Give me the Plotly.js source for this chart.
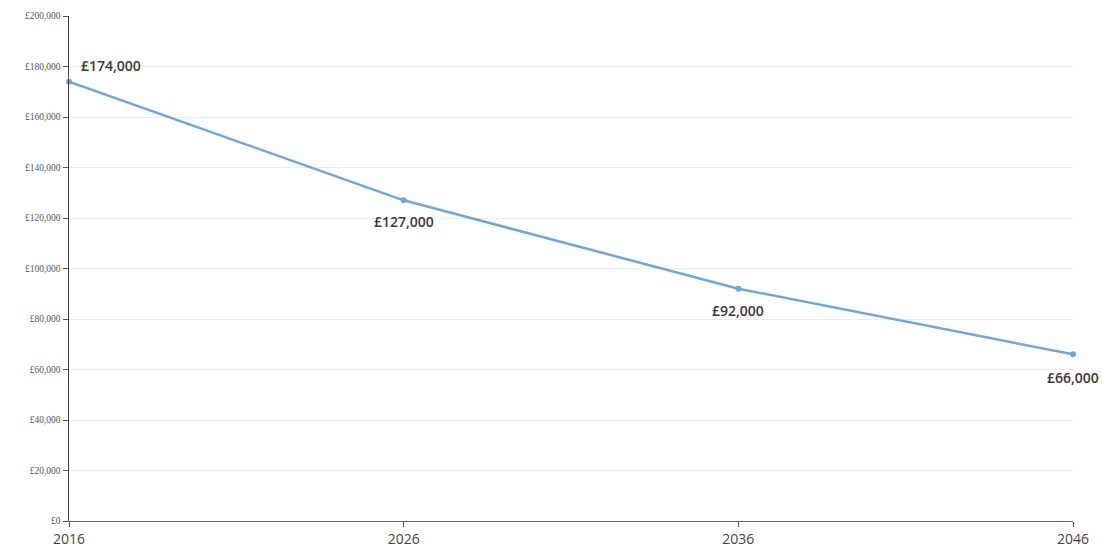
<!DOCTYPE html>
<html><head><meta charset="utf-8">
<script src="https://cdn.plot.ly/plotly-3.0.1.min.js"></script>
<style>html,body{margin:0;padding:0;background:#fff}#c{width:1103px;height:553px}</style>
</head><body><div id="c"></div>
<script>
var years = [2016, 2026, 2036, 2046];
var values = [174000, 127000, 92000, 66000];
var labels = ['£174,000', '£127,000', '£92,000', '£66,000'];
var yTickVals = [0,20000,40000,60000,80000,100000,120000,140000,160000,180000,200000];
var yTickText = ['£0','£20,000','£40,000','£60,000','£80,000','£100,000','£120,000','£140,000','£160,000','£180,000','£200,000'];

var labelPos = [
  {xanchor:'left', yanchor:'bottom', xshift:10, yshift:5},
  {xanchor:'center', yanchor:'top', xshift:0, yshift:-10},
  {xanchor:'center', yanchor:'top', xshift:0, yshift:-10},
  {xanchor:'center', yanchor:'top', xshift:0, yshift:-12}
];
var annotations = years.map(function(y,i){
  return Object.assign({x:y, y:values[i], xref:'x', yref:'y', text:labels[i], showarrow:false,
    font:{family:'Open Sans, DejaVu Sans, sans-serif', size:14, weight:600, color:'#3a3a3a'}}, labelPos[i]);
});

Plotly.newPlot('c', [{
  x: years, y: values, type:'scatter', mode:'lines+markers',
  line:{color:'#6fa6dc', width:2.5},
  marker:{color:'#6fa6dc', size:6},
  cliponaxis:false, hoverinfo:'skip'
}], {
  width:1103, height:553,
  margin:{l:69, r:30, t:16, b:32},
  paper_bgcolor:'#fff', plot_bgcolor:'#fff',
  showlegend:false,
  xaxis:{range:[2016,2046], tickvals:years, ticktext:years.map(String), ticks:'outside', ticklen:5,
    tickcolor:'#555', showline:true, linecolor:'#666', linewidth:1, showgrid:false, zeroline:false,
    tickfont:{family:'Open Sans, DejaVu Sans, sans-serif', size:14, color:'#444'}},
  yaxis:{range:[0,200000], tickvals:yTickVals, ticktext:yTickText, ticks:'outside', ticklen:5,
    tickcolor:'#555', showline:true, linecolor:'#444', linewidth:1.5, showgrid:true, gridcolor:'#ebebeb',
    gridwidth:1, zeroline:false,
    tickfont:{family:'Liberation Serif, DejaVu Serif, serif', size:9.5, color:'#555'}},
  annotations: annotations
}, {staticPlot:true});
</script></body></html>
